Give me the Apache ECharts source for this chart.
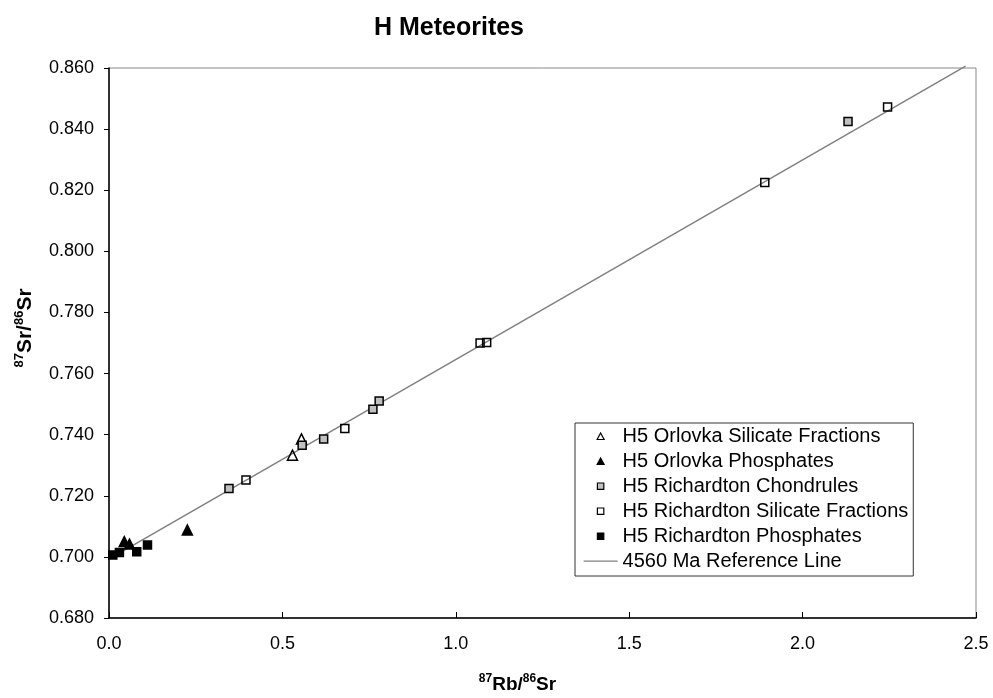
<!DOCTYPE html>
<html>
<head>
<meta charset="utf-8">
<script src="https://cdn.jsdelivr.net/npm/echarts@6/dist/echarts.min.js"></script>
<style>
html,body{margin:0;padding:0;background:#fff;}
#chart{width:993px;height:698px;}
</style>
</head>
<body>
<div id="chart"></div>
<script>
// ---- data (x = 87Rb/86Sr, y = 87Sr/86Sr) ----
var seriesNames = [
  'H5 Orlovka Silicate Fractions',
  'H5 Orlovka Phosphates',
  'H5 Richardton Chondrules',
  'H5 Richardton Silicate Fractions',
  'H5 Richardton Phosphates',
  '4560 Ma Reference Line'
];
var orlovkaSilicate = [[0.529, 0.7333], [0.555, 0.7386]];
var orlovkaPhosphates = [[0.044, 0.7050], [0.059, 0.7042], [0.226, 0.7088]];
var richardtonChondrules = [[0.346, 0.7224], [0.557, 0.7365], [0.619, 0.7386], [0.761, 0.7483], [0.779, 0.7510], [2.131, 0.8425]];
var richardtonSilicate = [[0.395, 0.7252], [0.680, 0.7420], [1.070, 0.7700], [1.089, 0.7702], [1.891, 0.8225], [2.245, 0.8472]];
var richardtonPhosphates = [[0.011, 0.7006], [0.030, 0.7014], [0.080, 0.7017], [0.111, 0.7039]];
var referenceLine = [[0, 0.6993], [2.47, 0.8606]];
var xTicks = [0, 0.5, 1.0, 1.5, 2.0, 2.5];
var yTicks = [0.68, 0.70, 0.72, 0.74, 0.76, 0.78, 0.80, 0.82, 0.84, 0.86];

var FONT = '"Liberation Sans", Arial, Helvetica, sans-serif';
var chart = echarts.init(document.getElementById('chart'), null, {renderer: 'canvas'});

function scatter(name, data, symbol, size, fill) {
  return {
    name: name, type: 'scatter', data: data, symbol: symbol, symbolSize: size, z: 3,
    itemStyle: {color: fill, borderColor: '#000', borderWidth: 1.5, opacity: 1},
    emphasis: {disabled: true}
  };
}

// legend icons: small glyph centred in a 34x8 box (stray moveTo points fix the box)
var BOX = ' M0,0 M34,8';
var legendIcons = [
  'path://M13.5,7.5L17,1L20.5,7.5Z' + BOX,
  'path://M13.5,7.5L17,1L20.5,7.5Z' + BOX,
  'path://M13.8,1L20.2,1L20.2,7.4L13.8,7.4Z' + BOX,
  'path://M13.8,1L20.2,1L20.2,7.4L13.8,7.4Z' + BOX,
  'path://M13.8,1L20.2,1L20.2,7.4L13.8,7.4Z' + BOX,
  'path://M0,3.4L34,3.4L34,4.8L0,4.8Z' + BOX
];
var legendFills = ['#fff', '#000', '#c0c0c0', '#fff', '#000', '#808080'];
var legendData = seriesNames.map(function (n, i) {
  return {
    name: n, icon: legendIcons[i],
    itemStyle: {color: legendFills[i], borderColor: i === 5 ? 'transparent' : '#000', borderWidth: i === 5 ? 0 : 1.2}
  };
});

function richName(size, supSize) {
  return {
    b: {fontFamily: FONT, fontSize: size, fontWeight: 'bold', color: '#000', lineHeight: size + 2, verticalAlign: 'bottom'},
    sup: {fontFamily: FONT, fontSize: supSize, fontWeight: 'bold', color: '#000', lineHeight: supSize + 1, verticalAlign: 'top'}
  };
}

var option = {
  animation: false,
  backgroundColor: '#fff',
  textStyle: {fontFamily: FONT},
  title: {
    text: 'H Meteorites', left: 444, top: 11, textAlign: 'center',
    textStyle: {fontFamily: FONT, fontSize: 25, fontWeight: 'bold', color: '#000'}
  },
  grid: {left: 109, right: 17, top: 68, bottom: 80, show: true, borderColor: '#888', borderWidth: 1,
         backgroundColor: 'transparent', containLabel: false, outerBoundsMode: 'none'},
  legend: {
    orient: 'vertical', left: 575, top: 423,
    padding: [3, 5, 5, 8], itemGap: 5, itemWidth: 34, itemHeight: 8,
    borderColor: '#333', borderWidth: 1, backgroundColor: '#fff',
    selectedMode: false,
    textStyle: {fontFamily: FONT, fontSize: 20, color: '#000', lineHeight: 20},
    data: legendData
  },
  xAxis: {
    type: 'value', min: xTicks[0], max: xTicks[xTicks.length - 1], interval: 0.5,
    name: '{sup|87}{b|Rb/}{sup|86}{b|Sr}', nameLocation: 'middle', nameGap: 55,
    nameTextStyle: {padding: [0, 50, 0, 0], rich: richName(19, 12)},
    axisLine: {show: true, onZero: false, lineStyle: {color: '#000', width: 1.5}},
    axisTick: {show: true, inside: true, length: 6, lineStyle: {color: '#000', width: 1}},
    axisLabel: {fontFamily: FONT, fontSize: 18, color: '#000', margin: 17, formatter: function (v) { return v.toFixed(1); }},
    splitLine: {show: false}
  },
  yAxis: {
    type: 'value', min: yTicks[0], max: yTicks[yTicks.length - 1], interval: 0.02,
    name: '{sup|87}{b|Sr/}{sup|86}{b|Sr}', nameLocation: 'middle', nameGap: 73, nameRotate: 90,
    nameTextStyle: {padding: [0, 0, 0, 30], rich: richName(21, 13)},
    axisLine: {show: true, onZero: false, lineStyle: {color: '#000', width: 1.5}},
    axisTick: {show: true, inside: false, length: 5, lineStyle: {color: '#000', width: 1}},
    axisLabel: {fontFamily: FONT, fontSize: 18, color: '#000', margin: 15, formatter: function (v) { return v.toFixed(3); }},
    splitLine: {show: false}
  },
  series: [
    scatter(seriesNames[0], orlovkaSilicate, 'triangle', 10, 'rgba(255,255,255,0)'),
    scatter(seriesNames[1], orlovkaPhosphates, 'triangle', 10, '#000'),
    scatter(seriesNames[2], richardtonChondrules, 'rect', 8, '#c0c0c0'),
    scatter(seriesNames[3], richardtonSilicate, 'rect', 8, 'rgba(255,255,255,0)'),
    scatter(seriesNames[4], richardtonPhosphates, 'rect', 8, '#000'),
    {
      name: seriesNames[5], type: 'line', data: referenceLine, symbol: 'none', clip: false, z: 2,
      lineStyle: {color: '#808080', width: 1.5}, itemStyle: {color: '#808080'},
      emphasis: {disabled: true}
    }
  ]
};
chart.setOption(option);
</script>
</body>
</html>
